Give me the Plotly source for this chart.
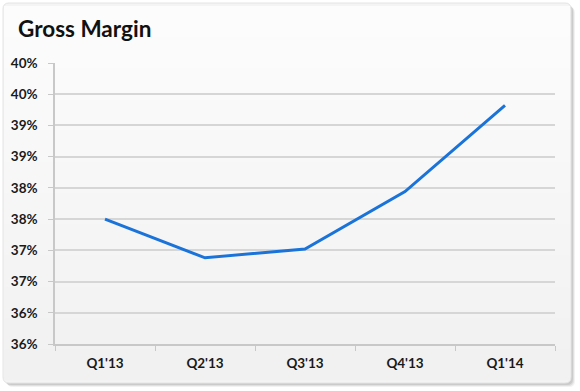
import plotly.graph_objects as go

quarters = ["Q1'13", "Q2'13", "Q3'13", "Q4'13", "Q1'14"]
gross_margin = [37.50, 36.88, 37.02, 37.94, 39.32]
y_tick_values = [35.5, 36.0, 36.5, 37.0, 37.5, 38.0, 38.5, 39.0, 39.5, 40.0]
y_tick_labels = ["36%", "36%", "37%", "37%", "38%", "38%", "39%", "39%", "40%", "40%"]

W, H = 580, 391
L, R, T, B = 55, 25, 63, 47
pw, ph = W - L - R, H - T - B


def px(x):
    return (x - L) / pw


def py(y):
    return (H - B - y) / ph


def rounded(x0, y0, x1, y1, r):
    rx, ry = r / pw, r / ph
    a, b, c, d = px(x0), py(y1), px(x1), py(y0)
    return (f"M {a+rx},{b} L {c-rx},{b} Q {c},{b} {c},{b+ry} L {c},{d-ry} "
            f"Q {c},{d} {c-rx},{d} L {a+rx},{d} Q {a},{d} {a},{d-ry} "
            f"L {a},{b+ry} Q {a},{b} {a+rx},{b} Z")


shapes = []
# shadow
for i, col in enumerate(["rgba(0,0,0,0.05)", "rgba(0,0,0,0.07)", "rgba(0,0,0,0.09)"]):
    o = 4 - i
    shapes.append(dict(type="path", xref="paper", yref="paper", layer="below",
                       path=rounded(3 + o, 3 + o, 571 + o, 383 + o, 6),
                       fillcolor=col, line=dict(width=0)))
# card with gradient bands
shapes.append(dict(type="path", xref="paper", yref="paper", layer="below",
                   path=rounded(3, 3, 571, 383, 6),
                   fillcolor="#f4f4f4", line=dict(color="#e4e4e4", width=1)))
n = 24
top, bot = 6, 380
for k in range(n):
    y0 = top + (bot - top) * k / n
    y1 = top + (bot - top) * (k + 1) / n
    t = k / (n - 1)
    v = int(round(252 - t * 11))
    shapes.append(dict(type="rect", xref="paper", yref="paper", layer="below",
                       x0=px(4), x1=px(570), y0=py(y1 + 0.5), y1=py(y0),
                       fillcolor=f"rgb({v},{v},{v})", line=dict(width=0)))

fig = go.Figure()
fig.add_trace(go.Scatter(
    x=quarters, y=gross_margin, mode="lines",
    line=dict(color="#1a73d9", width=3), hoverinfo="skip", showlegend=False,
))

font_family = "Lato, 'Open Sans', sans-serif"
fig.update_layout(
    width=W, height=H,
    margin=dict(l=L, r=R, t=T, b=B),
    paper_bgcolor="white",
    plot_bgcolor="rgba(0,0,0,0)",
    shapes=shapes,
    showlegend=False,
    annotations=[dict(
        text="<b>Gross Margin</b>", xref="paper", yref="paper",
        x=px(16), y=py(29), xanchor="left", yanchor="middle",
        showarrow=False, font=dict(family=font_family, size=22.5, color="#111111"),
    )],
    xaxis=dict(
        type="category", range=[-0.5, 4.5], showgrid=False,
        showline=True, linecolor="#c8c8c8", linewidth=1.5,
        ticks="outside", tickson="boundaries", ticklen=5, tickcolor="#c8c8c8",
        tickfont=dict(family=font_family, size=13.5, color="#1a1a1a", weight="bold"),
        ticklabelstandoff=6, fixedrange=True,
    ),
    yaxis=dict(
        range=[35.5, 40.0], tickvals=y_tick_values, ticktext=y_tick_labels,
        showgrid=True, gridcolor="#d6d6d6", gridwidth=1.5,
        showline=True, linecolor="#c8c8c8", linewidth=1.5,
        ticks="outside", ticklen=5, tickcolor="#c8c8c8",
        tickfont=dict(family=font_family, size=13.5, color="#1a1a1a", weight="bold"),
        ticklabelstandoff=8, zeroline=False, fixedrange=True,
    ),
)

fig.write_html("out.html", config={"displayModeBar": False},
               post_script="document.body.style.margin='0';")
